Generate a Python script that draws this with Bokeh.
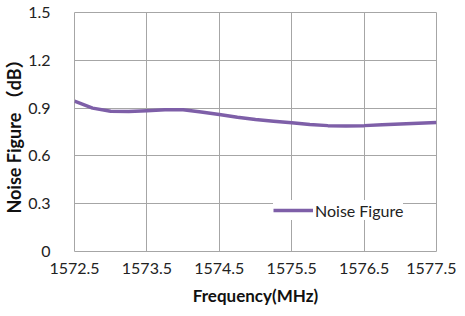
from bokeh.plotting import figure
from bokeh.embed import file_html
from bokeh.resources import INLINE
from bokeh.models import FixedTicker, Range1d, Legend, LegendItem

freq = [1572.5, 1572.75, 1573.0, 1573.25, 1573.5, 1573.75, 1574.0, 1574.25, 1574.5,
        1574.75, 1575.0, 1575.25, 1575.5, 1575.75, 1576.0, 1576.25, 1576.5, 1576.75,
        1577.0, 1577.25, 1577.5]
noise_figure = [0.944, 0.900, 0.880, 0.878, 0.884, 0.890, 0.889, 0.876, 0.860, 0.843,
                0.828, 0.818, 0.808, 0.797, 0.790, 0.788, 0.790, 0.795, 0.800, 0.805, 0.810]
x_ticks = [1572.5, 1573.5, 1574.5, 1575.5, 1576.5, 1577.5]
y_ticks = [0, 0.3, 0.6, 0.9, 1.2, 1.5]
y_labels = ["0", "0.3", "0.6", "0.9", "1.2", "1.5"]

FONT = "Lato"
p = figure(frame_width=362, frame_height=239, output_backend="svg", toolbar_location=None,
           x_range=Range1d(1572.5, 1577.5), y_range=Range1d(0, 1.5),
           min_border_left=67, min_border_right=20, min_border_top=12, min_border_bottom=50)

r = p.line(freq, noise_figure, line_color="#7e5fa8", line_width=3.5)

p.outline_line_color = "#a6a6a6"
p.xaxis.ticker = FixedTicker(ticks=x_ticks)
p.yaxis.ticker = FixedTicker(ticks=y_ticks)
p.xaxis.major_label_overrides = {t: f"{t:.1f}" for t in x_ticks}
p.yaxis.major_label_overrides = {t: l for t, l in zip(y_ticks, y_labels)}
for ax in (p.xaxis[0], p.yaxis[0]):
    ax.axis_line_color = None
    ax.major_tick_line_color = None
    ax.minor_tick_line_color = None
    ax.major_label_text_font = FONT
    ax.major_label_text_font_size = "16px"
    ax.major_label_text_color = "#222222"
    ax.axis_label_text_font = FONT
    ax.axis_label_text_font_style = "bold"
    ax.axis_label_text_font_size = "17px"
    ax.axis_label_text_color = "#111111"
p.yaxis.axis_label_text_font = "Lato, 'Noto Sans CJK SC'"
p.yaxis.axis_label_text_font_size = "18px"
p.xaxis.major_label_standoff = 5
p.yaxis.major_label_standoff = 18
p.xaxis.axis_label = "Frequency(MHz)"
p.yaxis.axis_label = "Noise Figure （dB）"
p.xaxis.axis_label_standoff = 8
p.yaxis.axis_label_standoff = 0

p.xgrid.grid_line_color = "#a6a6a6"
p.ygrid.grid_line_color = "#a6a6a6"

legend = Legend(items=[LegendItem(label="Noise Figure", renderers=[r])],
                location=(199, 31), border_line_color=None,
                background_fill_color="white", background_fill_alpha=1.0,
                label_text_font=FONT, label_text_font_size="16px",
                label_text_color="#222222", glyph_width=40, label_standoff=2,
                padding=8, margin=0)
p.add_layout(legend, "center")

open("out.html", "w").write(file_html(p, INLINE))
